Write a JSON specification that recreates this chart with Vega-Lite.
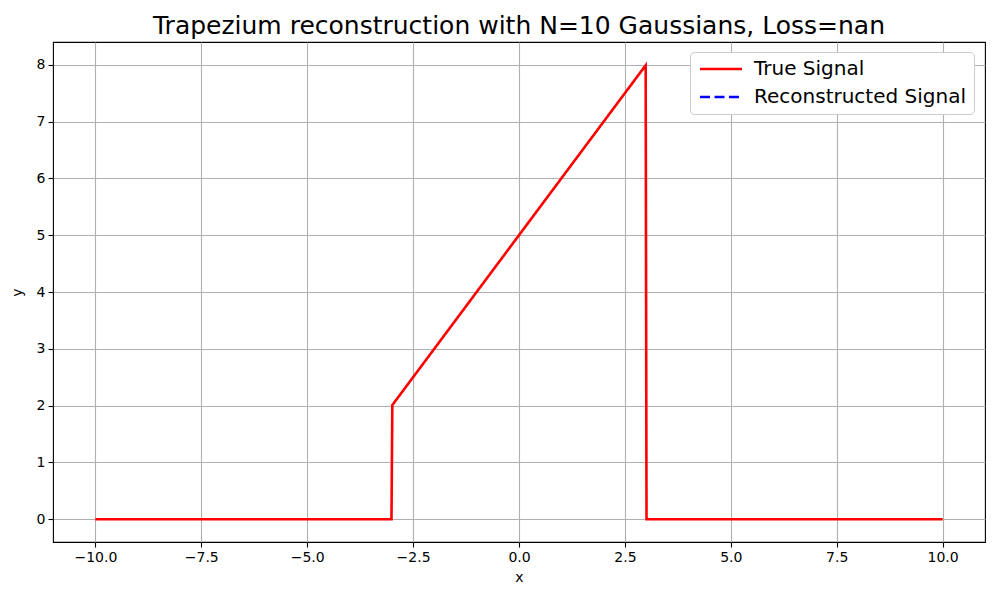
{
  "$schema": "https://vega.github.io/schema/vega-lite/v6.json",
  "width": 932,
  "height": 500,
  "autosize": {"type": "none"},
  "padding": {"left": 53, "top": 42, "right": 15, "bottom": 58},
  "background": "white",
  "config": {
    "font": "DejaVu Sans",
    "view": {"stroke": "black", "strokeWidth": 1.1},
    "axis": {
      "grid": true,
      "gridColor": "#b0b0b0",
      "gridWidth": 1.1,
      "gridOpacity": 1,
      "domain": false,
      "tickColor": "black",
      "tickSize": 5,
      "tickWidth": 1.1,
      "labelFontSize": 14,
      "labelColor": "black",
      "labelPadding": 3,
      "titleFontSize": 14,
      "titleFontWeight": "normal",
      "titleColor": "black"
    }
  },
  "title": {
    "text": "Trapezium reconstruction with N=10 Gaussians, Loss=nan",
    "fontSize": 25,
    "fontWeight": "normal",
    "color": "black",
    "anchor": "middle",
    "offset": 3
  },
  "data": {
    "values": [
      {"x": -10, "y": 0, "series": "True Signal"},
      {"x": -3.01, "y": 0, "series": "True Signal"},
      {"x": -2.99, "y": 2.01, "series": "True Signal"},
      {"x": 2.99, "y": 7.99, "series": "True Signal"},
      {"x": 3.01, "y": 0, "series": "True Signal"},
      {"x": 10, "y": 0, "series": "True Signal"},
      {"x": null, "y": null, "series": "Reconstructed Signal"}
    ]
  },
  "mark": {"type": "line", "strokeWidth": 2.6, "clip": true},
  "encoding": {
    "x": {
      "field": "x",
      "type": "quantitative",
      "scale": {"domain": [-11, 11], "nice": false, "zero": false},
      "axis": {"values": [-10, -7.5, -5, -2.5, 0, 2.5, 5, 7.5, 10], "format": ".1f", "title": "x", "titlePadding": 6}
    },
    "y": {
      "field": "y",
      "type": "quantitative",
      "scale": {"domain": [-0.4, 8.4], "nice": false, "zero": false},
      "axis": {"values": [0, 1, 2, 3, 4, 5, 6, 7, 8], "format": "d", "title": "y", "titlePadding": 12}
    },
    "color": {
      "field": "series",
      "type": "nominal",
      "scale": {"domain": ["True Signal", "Reconstructed Signal"], "range": ["#ff0000", "#0000ff"]},
      "legend": {
        "title": null,
        "orient": "none",
        "legendX": 637,
        "legendY": 10,
        "fillColor": "white",
        "strokeColor": "#cccccc",
        "cornerRadius": 4,
        "padding": 7,
        "labelFontSize": 20,
        "labelColor": "black",
        "labelLimit": 400,
        "labelOffset": 37,
        "rowPadding": 8,
        "symbolType": "M-1,0H5",
        "symbolSize": 196,
        "symbolStrokeWidth": 2.6
      }
    },
    "strokeDash": {
      "field": "series",
      "type": "nominal",
      "scale": {"domain": ["True Signal", "Reconstructed Signal"], "range": [[1, 0], [10, 4.5]]},
      "legend": {
        "title": null,
        "orient": "none",
        "legendX": 637,
        "legendY": 10,
        "fillColor": "white",
        "strokeColor": "#cccccc",
        "cornerRadius": 4,
        "padding": 7,
        "labelFontSize": 20,
        "labelColor": "black",
        "labelLimit": 400,
        "labelOffset": 37,
        "rowPadding": 8,
        "symbolType": "M-1,0H5",
        "symbolSize": 196,
        "symbolStrokeWidth": 2.6
      }
    }
  }
}
